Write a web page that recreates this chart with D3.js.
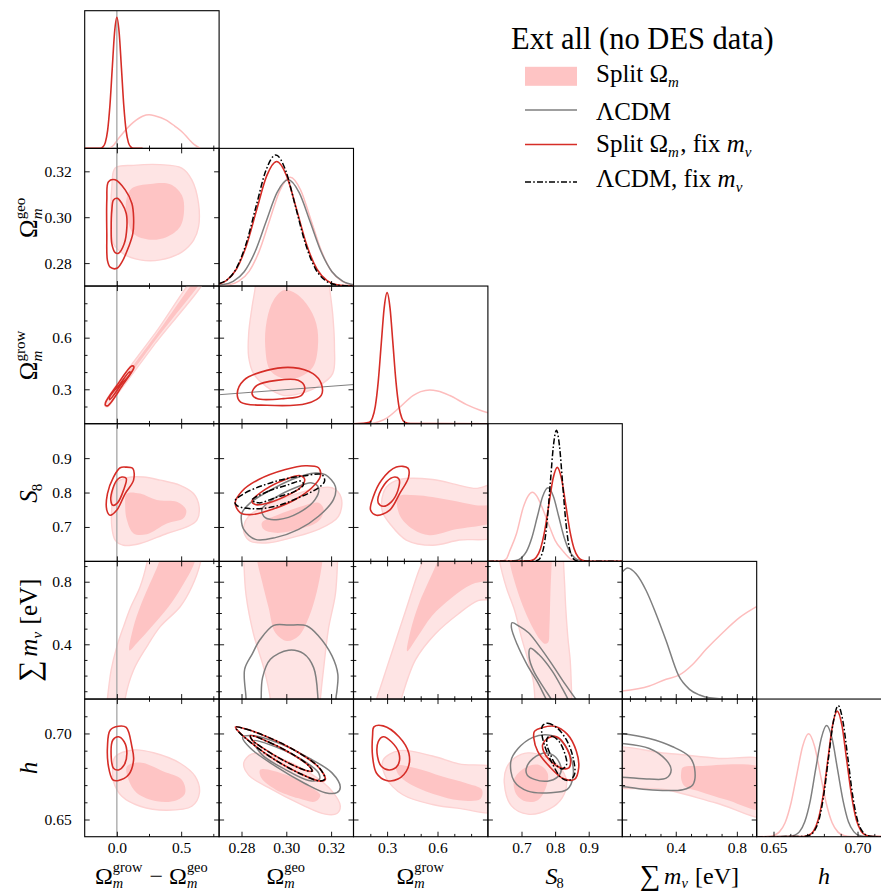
<!DOCTYPE html>
<html>
<head>
<meta charset="utf-8">
<script src="https://cdn.jsdelivr.net/npm/d3@7"></script>
<style>
  body { margin: 0; background: #fff; }
  svg { display: block; }
  text { font-family: 'Liberation Serif', 'DejaVu Serif', 'Times New Roman', serif; fill: #000; }
</style>
</head>
<body>
<svg id="chart" width="881" height="892"></svg>
<script>
// ---------------- parameter axes ----------------
const paramKeys = ["dOm", "geo", "grow", "s8", "mnu", "h"];
const domDelta = [-0.25, 0.795];
const domGeo = [0.27, 0.33];
const domGrow = [0.1, 0.9];
const domS8 = [0.6, 1.0];
const domMnu = [0.05, 0.93];
const domH = [0.64, 0.72];

const majorDelta = [0.0, 0.5], minorDelta = [0.25, 0.75];
const majorGeo = [0.28, 0.30, 0.32], minorGeo = [];
const majorGrow = [0.3, 0.6], minorGrow = [0.2, 0.4, 0.5, 0.7, 0.8];
const majorS8 = [0.7, 0.8, 0.9], minorS8 = [];
const majorMnu = [0.4, 0.8], minorMnu = [0.1, 0.2, 0.3, 0.5, 0.6, 0.7, 0.9];
const majorH = [0.65, 0.70], minorH = [0.66, 0.67, 0.68, 0.69, 0.71];

const labelsDelta = ["0.0", "0.5"];
const labelsGeo = ["0.28", "0.30", "0.32"];
const labelsGrow = ["0.3", "0.6"];
const labelsS8 = ["0.7", "0.8", "0.9"];
const labelsMnu = ["0.4", "0.8"];
const labelsH = ["0.65", "0.70"];

// ---------------- 1D marginals (x, relative density) ----------------
const deltaPink1d = [[-0.06,0],[-0.02,0.03],[0.0,0.059],[0.05,0.12],[0.13,0.2],[0.2,0.245],[0.25,0.256],[0.3,0.247],[0.38,0.218],[0.45,0.17],[0.51,0.123],[0.56,0.07],[0.6,0.03],[0.65,0]];
const deltaRed1d = [[-0.25,0],[-0.13,0],[-0.108,0.011],[-0.09,0.044],[-0.072,0.135],[-0.054,0.325],[-0.036,0.607],[-0.018,0.882],[0,1],[0.018,0.882],[0.036,0.607],[0.054,0.325],[0.072,0.135],[0.09,0.044],[0.108,0.011],[0.13,0],[0.2,0]];

const geoBlack1d = [[0.27,0.02],[0.2733,0.044],[0.2777,0.135],[0.2821,0.325],[0.2865,0.607],[0.2909,0.882],[0.2953,1.0],[0.2997,0.882],[0.3041,0.607],[0.3085,0.325],[0.3129,0.135],[0.3173,0.044],[0.3217,0.011],[0.3261,0.002],[0.33,0]];
const geoRed1d = [[0.27,0.016],[0.2732,0.042],[0.2777,0.128],[0.2822,0.309],[0.2867,0.577],[0.2912,0.838],[0.2957,0.95],[0.3002,0.838],[0.3047,0.577],[0.3092,0.309],[0.3137,0.128],[0.3182,0.042],[0.3227,0.01],[0.33,0]];
const geoGray1d = [[0.27,0.006],[0.2714,0.009],[0.2763,0.036],[0.2812,0.109],[0.2861,0.263],[0.291,0.492],[0.2959,0.714],[0.3008,0.81],[0.3057,0.714],[0.3106,0.492],[0.3155,0.263],[0.3204,0.109],[0.3253,0.036],[0.33,0.01]];
const geoPink1d = [[0.27,0.005],[0.2742,0.009],[0.2788,0.037],[0.2834,0.112],[0.288,0.27],[0.2926,0.504],[0.2972,0.732],[0.3018,0.83],[0.3064,0.732],[0.311,0.504],[0.3156,0.27],[0.3202,0.112],[0.3248,0.037],[0.3294,0.009],[0.33,0.008]];

const growRed1d = [[0.1,0],[0.16,0.003],[0.195,0.011],[0.2125,0.044],[0.23,0.135],[0.2475,0.325],[0.265,0.607],[0.2825,0.882],[0.3,1],[0.3175,0.882],[0.335,0.607],[0.3525,0.325],[0.37,0.135],[0.3875,0.044],[0.405,0.011],[0.44,0.001],[0.9,0]];
const growPink1d = [[0.2,0],[0.25,0.015],[0.3,0.045],[0.375,0.125],[0.454,0.215],[0.5,0.245],[0.554,0.258],[0.6,0.25],[0.673,0.215],[0.773,0.146],[0.85,0.105],[0.9,0.084]];

const s8Black1d = [[0.6,0],[0.74,0.002],[0.75,0.011],[0.759,0.044],[0.768,0.135],[0.777,0.325],[0.786,0.607],[0.795,0.882],[0.804,1],[0.813,0.882],[0.822,0.607],[0.831,0.325],[0.84,0.135],[0.849,0.044],[0.858,0.011],[0.87,0.001],[1.0,0]];
const s8Red1d = [[0.6,0],[0.72,0.002],[0.7315,0.008],[0.744,0.032],[0.7565,0.097],[0.769,0.233],[0.7815,0.435],[0.794,0.632],[0.8065,0.717],[0.819,0.632],[0.8315,0.435],[0.844,0.233],[0.8565,0.097],[0.869,0.032],[0.8815,0.008],[0.9,0.001],[1.0,0]];
const s8Gray1d = [[0.62,0],[0.66,0.001],[0.683,0.006],[0.699,0.025],[0.715,0.076],[0.731,0.182],[0.747,0.34],[0.763,0.495],[0.779,0.561],[0.795,0.495],[0.811,0.34],[0.827,0.182],[0.843,0.076],[0.859,0.025],[0.875,0.006],[0.9,0]];
const s8Pink1d = [[0.64,0],[0.655,0.02],[0.665,0.08],[0.685,0.21],[0.705,0.41],[0.72,0.5],[0.7324,0.527],[0.745,0.5],[0.76,0.42],[0.784,0.26],[0.8,0.16],[0.823,0.08],[0.845,0.02],[0.86,0]];

const mnuGray1d = [[0.048,0.968],[0.085,1.0],[0.14,0.956],[0.206,0.828],[0.271,0.649],[0.337,0.445],[0.418,0.18],[0.49,0.074],[0.556,0.031],[0.62,0.01],[0.75,0],[0.93,0]];
const mnuPink1d = [[0.048,0.061],[0.227,0.1],[0.337,0.151],[0.418,0.18],[0.512,0.266],[0.6,0.381],[0.709,0.508],[0.819,0.623],[0.929,0.705]];

const hBlack1d = [[0.64,0],[0.668,0.002],[0.6715,0.011],[0.6743,0.044],[0.6772,0.135],[0.68,0.325],[0.6828,0.607],[0.6857,0.882],[0.6885,1.0],[0.6913,0.882],[0.6942,0.607],[0.697,0.325],[0.6998,0.135],[0.7027,0.044],[0.7055,0.011],[0.709,0.001],[0.72,0]];
const hRed1d = [[0.64,0],[0.668,0.002],[0.6709,0.011],[0.6738,0.042],[0.6766,0.129],[0.6795,0.311],[0.6823,0.582],[0.6851,0.845],[0.6879,0.958],[0.6908,0.845],[0.6936,0.582],[0.6965,0.311],[0.6993,0.129],[0.7022,0.042],[0.705,0.011],[0.709,0.001],[0.72,0]];
const hGray1d = [[0.64,0],[0.66,0.003],[0.6621,0.009],[0.6654,0.037],[0.6686,0.114],[0.6719,0.276],[0.6751,0.515],[0.6784,0.748],[0.6816,0.848],[0.6849,0.748],[0.6881,0.515],[0.6914,0.276],[0.6946,0.114],[0.6979,0.037],[0.7011,0.009],[0.705,0.001],[0.72,0]];
const hPink1d = [[0.64,0],[0.648,0.002],[0.6499,0.009],[0.6534,0.035],[0.6569,0.106],[0.6604,0.255],[0.6639,0.476],[0.6674,0.692],[0.6709,0.785],[0.6744,0.692],[0.6779,0.476],[0.6814,0.255],[0.6849,0.106],[0.6884,0.035],[0.6919,0.009],[0.696,0.001],[0.72,0]];

// ---------------- 2D contours (68% / 95%), in parameter units ----------------
// Omega_grow - Omega_geo  vs  Omega_geo
const dGeoPinkOut = [[-0.013,0.3214],[0.13,0.3226],[0.337,0.3229],[0.505,0.3214],[0.583,0.3163],[0.635,0.306],[0.635,0.2958],[0.596,0.2899],[0.505,0.2848],[0.337,0.2814],[0.181,0.2814],[0.052,0.284],[-0.026,0.2884],[-0.044,0.3001],[-0.039,0.3133]];
const dGeoPinkIn = [[0.117,0.3126],[0.259,0.3145],[0.415,0.3144],[0.505,0.3097],[0.523,0.3031],[0.492,0.2958],[0.389,0.2914],[0.259,0.2902],[0.13,0.2928],[0.078,0.3001],[0.073,0.3075]];
const dGeoRedOut = [[-0.065,0.3155],[-0.013,0.3163],[0.065,0.3119],[0.117,0.306],[0.13,0.3001],[0.124,0.2928],[0.091,0.287],[0.039,0.2804],[0.0,0.2777],[-0.052,0.2782],[-0.073,0.2811],[-0.078,0.2928],[-0.078,0.3075]];
const dGeoRedIn = [[-0.026,0.3075],[0.005,0.3082],[0.039,0.306],[0.073,0.3016],[0.078,0.2958],[0.057,0.2884],[0.013,0.2843],[-0.013,0.2846],[-0.039,0.2884],[-0.044,0.2958],[-0.039,0.3031]];

// difference vs Omega_grow
const dGrowPinkOut = [[-0.095,0.215],[-0.09,0.202],[-0.07,0.2],[0.0,0.268],[0.3,0.568],[0.7,0.968],[0.66,0.99],[0.3,0.628],[0.0,0.328],[-0.08,0.24]];
const dGrowPinkIn = [[-0.06,0.24],[0.0,0.285],[0.3,0.585],[0.7,0.985],[0.68,0.99],[0.3,0.612],[0.0,0.312],[-0.06,0.255]];
const dGrowRedOut = [[-0.088,0.207],[-0.07,0.205],[0.05,0.33],[0.13,0.42],[0.132,0.433],[0.115,0.435],[0.0,0.322],[-0.088,0.222]];
const dGrowRedIn = [[-0.055,0.24],[0.04,0.333],[0.105,0.392],[0.1,0.402],[0.02,0.327],[-0.056,0.255]];

// Omega_geo vs Omega_grow
const geoGrowPinkOut = [[0.2862,0.95],[0.2862,0.9],[0.2847,0.778],[0.2832,0.623],[0.2832,0.488],[0.2854,0.391],[0.2913,0.314],[0.2987,0.265],[0.306,0.275],[0.3149,0.323],[0.3207,0.391],[0.3215,0.546],[0.3207,0.739],[0.3193,0.9],[0.3193,0.95]];
const geoGrowPinkIn = [[0.2943,0.817],[0.2987,0.875],[0.3031,0.865],[0.309,0.797],[0.3134,0.681],[0.3141,0.546],[0.3119,0.43],[0.306,0.372],[0.2987,0.362],[0.2928,0.41],[0.2906,0.546],[0.2913,0.701]];
const geoGrowRedOut = [[0.2781,0.275],[0.281,0.352],[0.2913,0.41],[0.3031,0.426],[0.3119,0.391],[0.3156,0.333],[0.3156,0.265],[0.309,0.217],[0.2913,0.207],[0.2796,0.226]];
const geoGrowRedIn = [[0.2847,0.275],[0.2869,0.323],[0.2957,0.352],[0.3053,0.352],[0.3082,0.314],[0.3068,0.265],[0.2987,0.246],[0.2869,0.246]];
const geoGrowGrayLine = [[0.27,0.2685],[0.33,0.3275]];

// difference vs S8
const dS8PinkOut = [[-0.013,0.826],[0.078,0.843],[0.207,0.845],[0.337,0.836],[0.492,0.821],[0.596,0.797],[0.64,0.758],[0.622,0.72],[0.544,0.7],[0.389,0.681],[0.181,0.652],[0.052,0.647],[-0.013,0.662],[-0.039,0.7],[-0.039,0.758]];
const dS8PinkIn = [[0.078,0.797],[0.181,0.797],[0.311,0.778],[0.466,0.773],[0.539,0.749],[0.518,0.725],[0.389,0.71],[0.233,0.679],[0.13,0.681],[0.078,0.72],[0.065,0.758]];
const dS8RedOut = [[0.026,0.872],[0.065,0.874],[0.124,0.87],[0.13,0.836],[0.065,0.797],[0.0,0.749],[-0.052,0.734],[-0.078,0.749],[-0.073,0.797],[-0.026,0.845]];
const dS8RedIn = [[0.039,0.845],[0.073,0.841],[0.052,0.807],[0.005,0.77],[-0.031,0.763],[-0.047,0.778],[-0.031,0.812],[0.005,0.838]];

// Omega_geo vs S8
const geoS8PinkOut = [[0.281,0.702],[0.2832,0.731],[0.2891,0.756],[0.2996,0.785],[0.3114,0.809],[0.3204,0.814],[0.3245,0.785],[0.3233,0.731],[0.3144,0.693],[0.3025,0.669],[0.2921,0.654],[0.2839,0.659],[0.2814,0.678]];
const geoS8PinkIn = [[0.2891,0.712],[0.2966,0.736],[0.307,0.76],[0.3144,0.77],[0.3167,0.751],[0.3144,0.717],[0.3055,0.693],[0.2951,0.683],[0.2899,0.693]];
const geoS8GrayOut = [[0.2802,0.741],[0.2839,0.77],[0.2921,0.804],[0.3025,0.838],[0.3129,0.857],[0.3174,0.852],[0.3219,0.818],[0.3211,0.78],[0.3144,0.731],[0.3055,0.693],[0.2951,0.669],[0.2862,0.664],[0.281,0.693],[0.2799,0.722]];
const geoS8GrayIn = [[0.2891,0.751],[0.2951,0.785],[0.304,0.814],[0.3114,0.828],[0.3144,0.814],[0.3129,0.78],[0.3055,0.741],[0.2966,0.722],[0.2906,0.727]];
const geoS8RedOut = [[0.2772,0.77],[0.2802,0.804],[0.2877,0.838],[0.2996,0.867],[0.3085,0.878],[0.3144,0.872],[0.3152,0.847],[0.3114,0.814],[0.304,0.78],[0.2936,0.751],[0.2847,0.736],[0.2795,0.741]];
const geoS8RedIn = [[0.2847,0.775],[0.2906,0.809],[0.2996,0.838],[0.3062,0.849],[0.3082,0.838],[0.3062,0.814],[0.2996,0.789],[0.2921,0.77],[0.2862,0.765]];
const geoS8BlackOut = [[0.277,0.775],[0.2817,0.799],[0.2906,0.823],[0.2996,0.84],[0.3085,0.849],[0.3159,0.852],[0.3171,0.833],[0.3144,0.814],[0.3055,0.785],[0.2951,0.76],[0.2847,0.753],[0.278,0.762]];
const geoS8BlackIn = [[0.2847,0.778],[0.2921,0.804],[0.301,0.823],[0.3067,0.833],[0.3077,0.823],[0.304,0.804],[0.2951,0.785],[0.2877,0.77]];

// Omega_grow vs S8
const growS8PinkOut = [[0.2665,0.768],[0.2961,0.816],[0.3748,0.838],[0.5717,0.838],[0.7291,0.821],[0.8276,0.812],[0.95,0.821],[0.95,0.676],[0.7291,0.662],[0.5717,0.647],[0.4142,0.662],[0.3157,0.71],[0.2764,0.739]];
const growS8PinkIn = [[0.365,0.787],[0.473,0.792],[0.67,0.778],[0.828,0.763],[0.95,0.758],[0.95,0.72],[0.709,0.693],[0.552,0.676],[0.454,0.693],[0.375,0.734]];
const growS8RedOut = [[0.2016,0.749],[0.2173,0.787],[0.2665,0.836],[0.3551,0.874],[0.424,0.871],[0.428,0.845],[0.3748,0.797],[0.3157,0.749],[0.237,0.734]];
const growS8RedIn = [[0.2469,0.787],[0.2961,0.831],[0.3453,0.845],[0.3709,0.839],[0.365,0.807],[0.3256,0.773],[0.2764,0.76],[0.2469,0.77]];

// sum of neutrino masses row
const dSumPinkOut = [[-0.08,0.0],[-0.073,0.055],[-0.044,0.236],[0.0,0.385],[0.052,0.513],[0.109,0.64],[0.181,0.768],[0.233,0.917],[0.25,1.0],[0.66,1.0],[0.648,0.917],[0.583,0.768],[0.492,0.64],[0.337,0.513],[0.233,0.385],[0.13,0.236],[0.065,0.055],[0.06,0.0]];
const dSumPinkIn = [[0.098,0.36],[0.13,0.513],[0.181,0.64],[0.246,0.768],[0.324,0.917],[0.35,1.0],[0.62,1.0],[0.601,0.917],[0.505,0.768],[0.402,0.64],[0.272,0.513],[0.155,0.406]];
const geoSumPinkOut = [[0.2808,1.0],[0.281,0.943],[0.282,0.719],[0.2854,0.464],[0.2899,0.251],[0.2929,0.049],[0.293,0.0],[0.315,0.0],[0.3152,0.049],[0.3167,0.251],[0.3189,0.506],[0.3219,0.719],[0.3229,0.943],[0.323,1.0]];
const geoSumPinkIn = [[0.2869,1.0],[0.2869,0.943],[0.2891,0.804],[0.2921,0.634],[0.2951,0.474],[0.3003,0.421],[0.3055,0.453],[0.31,0.57],[0.3137,0.74],[0.3162,0.943],[0.3163,1.0]];
const geoSumGrayOut = [[0.282,0.0],[0.282,0.06],[0.2814,0.24],[0.2847,0.336],[0.2884,0.432],[0.2944,0.521],[0.301,0.523],[0.3092,0.517],[0.3144,0.453],[0.3204,0.326],[0.323,0.209],[0.3226,0.102],[0.3222,0.06],[0.3222,0.0]];
const geoSumGrayIn = [[0.2888,0.0],[0.2888,0.06],[0.2894,0.187],[0.2929,0.304],[0.301,0.362],[0.3077,0.34],[0.3122,0.251],[0.3141,0.06],[0.3141,0.0]];
const growSumPinkOut = [[0.22,0.0],[0.2333,0.038],[0.3118,0.294],[0.4098,0.613],[0.4882,0.868],[0.5176,0.943],[0.54,1.0],[0.95,1.0],[0.95,0.7],[0.841,0.679],[0.7235,0.594],[0.5863,0.466],[0.4686,0.3],[0.3804,0.038],[0.37,0.0]];
const growSumPinkIn = [[0.4196,0.355],[0.4392,0.485],[0.4882,0.655],[0.5667,0.847],[0.6059,0.943],[0.63,1.0],[0.95,1.0],[0.95,0.836],[0.802,0.783],[0.6843,0.698],[0.5667,0.581],[0.4784,0.443]];
const s8SumPinkOut = [[0.632,1.0],[0.635,0.932],[0.655,0.762],[0.68,0.613],[0.7,0.443],[0.72,0.294],[0.735,0.166],[0.74,0.05],[0.742,0.0],[0.852,0.0],[0.85,0.05],[0.845,0.294],[0.838,0.443],[0.832,0.62],[0.828,0.8],[0.825,0.932],[0.825,1.0]];
const s8SumPinkIn = [[0.662,1.0],[0.664,0.932],[0.685,0.762],[0.71,0.613],[0.735,0.5],[0.755,0.43],[0.768,0.404],[0.779,0.411],[0.783,0.506],[0.786,0.719],[0.79,0.932],[0.791,1.0]];
const s8SumGrayOut = [[0.672,0.538],[0.692,0.517],[0.721,0.474],[0.756,0.379],[0.791,0.272],[0.83,0.145],[0.865,0.04],[0.88,0.0],[0.79,0.0],[0.776,0.04],[0.751,0.145],[0.716,0.272],[0.687,0.4],[0.67,0.506]];
const s8SumGrayIn = [[0.726,0.374],[0.751,0.336],[0.791,0.23],[0.82,0.123],[0.84,0.04],[0.845,0.0],[0.8,0.0],[0.791,0.04],[0.766,0.123],[0.736,0.23],[0.723,0.315]];

// h row
const dHPinkOut = [[-0.013,0.6865],[0.13,0.6904],[0.285,0.6888],[0.492,0.6827],[0.609,0.675],[0.642,0.6654],[0.583,0.6577],[0.389,0.6554],[0.181,0.6577],[0.039,0.6635],[-0.026,0.6721],[-0.031,0.6808]];
const dHPinkIn = [[0.078,0.6808],[0.181,0.6831],[0.363,0.6779],[0.505,0.6731],[0.531,0.6654],[0.466,0.6612],[0.311,0.6606],[0.155,0.6654],[0.091,0.6731]];
const dHRedOut = [[-0.052,0.7019],[0.013,0.7042],[0.073,0.7035],[0.117,0.6923],[0.13,0.6846],[0.091,0.676],[0.013,0.6727],[-0.031,0.6731],[-0.065,0.6808],[-0.073,0.6923]];
const dHRedIn = [[-0.031,0.6962],[0.013,0.6981],[0.057,0.6952],[0.078,0.6885],[0.057,0.6817],[0.013,0.6788],[-0.026,0.6798],[-0.044,0.6865]];

const geoHPinkOut = [[0.281,0.6829],[0.2847,0.6881],[0.2966,0.6858],[0.3114,0.6762],[0.3204,0.6665],[0.3241,0.6579],[0.3226,0.6535],[0.3174,0.6531],[0.307,0.6585],[0.2921,0.6685],[0.2832,0.6758]];
const geoHPinkIn = [[0.2884,0.679],[0.2996,0.6762],[0.31,0.6694],[0.3152,0.6642],[0.3129,0.6604],[0.3055,0.6623],[0.2951,0.6675],[0.2888,0.6742]];
const geoHGrayOut = [[0.2805,0.6977],[0.2847,0.6988],[0.2966,0.6944],[0.31,0.6858],[0.3204,0.6771],[0.3241,0.6688],[0.3226,0.6656],[0.3174,0.6656],[0.3085,0.6708],[0.2951,0.681],[0.2839,0.6915]];
const geoHGrayIn = [[0.2854,0.6958],[0.2966,0.6915],[0.307,0.6848],[0.3144,0.6771],[0.3147,0.6733],[0.31,0.6727],[0.2996,0.679],[0.2891,0.6877]];
const geoHRedOut = [[0.2773,0.7038],[0.2817,0.7027],[0.2921,0.6977],[0.304,0.69],[0.3144,0.6804],[0.3174,0.6733],[0.3152,0.6723],[0.3055,0.6771],[0.2936,0.6858],[0.2832,0.6958],[0.278,0.7021]];
const geoHRedIn = [[0.2839,0.6988],[0.2921,0.695],[0.3025,0.6881],[0.31,0.6813],[0.3117,0.6781],[0.3088,0.6785],[0.2996,0.6838],[0.2891,0.6919],[0.2847,0.6963]];
const geoHBlackOut = [[0.2775,0.7037],[0.2819,0.7026],[0.2923,0.6976],[0.3042,0.6899],[0.3146,0.6803],[0.3172,0.6735],[0.315,0.6724],[0.3053,0.6772],[0.2934,0.6859],[0.283,0.6959],[0.2779,0.7022]];
const geoHBlackIn = [[0.2841,0.6987],[0.2923,0.6949],[0.3027,0.688],[0.3101,0.6812],[0.3115,0.6782],[0.3086,0.6786],[0.2994,0.6839],[0.2889,0.692],[0.2846,0.6964]];

const growHPinkOut = [[0.2765,0.6846],[0.3745,0.69],[0.5706,0.6869],[0.7275,0.6823],[0.95,0.679],[0.95,0.6552],[0.7275,0.6565],[0.5706,0.6587],[0.3941,0.6644],[0.2961,0.674]];
const growHPinkIn = [[0.3549,0.6812],[0.4725,0.6798],[0.6294,0.675],[0.7667,0.6712],[0.8647,0.6673],[0.8549,0.6619],[0.7275,0.6612],[0.5902,0.6644],[0.4333,0.6708],[0.3647,0.6765]];
const growHRedOut = [[0.2216,0.7038],[0.2765,0.7044],[0.3706,0.6981],[0.4294,0.6885],[0.4235,0.6798],[0.3647,0.6735],[0.2961,0.6727],[0.2373,0.6769],[0.2137,0.6865],[0.2137,0.699]];
const growHRedIn = [[0.2471,0.6952],[0.2765,0.6981],[0.3255,0.6952],[0.3706,0.6885],[0.3647,0.6817],[0.3157,0.6788],[0.2667,0.6808],[0.2431,0.6865]];

const s8HPinkOut = [[0.6488,0.6713],[0.6556,0.68],[0.68,0.6858],[0.719,0.6887],[0.7678,0.6867],[0.8117,0.681],[0.8341,0.6723],[0.8215,0.6627],[0.7824,0.656],[0.719,0.6531],[0.6702,0.6579]];
const s8HPinkIn = [[0.678,0.6733],[0.7093,0.68],[0.7483,0.6819],[0.7776,0.6771],[0.7727,0.6685],[0.7483,0.6612],[0.7141,0.6604],[0.6849,0.6646]];
const s8HGrayOut = [[0.6683,0.6838],[0.6898,0.6912],[0.7337,0.6977],[0.7727,0.6992],[0.8117,0.6969],[0.8439,0.6877],[0.8537,0.6752],[0.8361,0.6675],[0.7873,0.6656],[0.719,0.6665],[0.678,0.6723]];
const s8HGrayIn = [[0.7141,0.6796],[0.7337,0.6854],[0.7727,0.6887],[0.802,0.6862],[0.8185,0.679],[0.8068,0.6746],[0.7776,0.6723],[0.7385,0.6733],[0.7171,0.6758]];
const s8HRedOut = [[0.7385,0.7012],[0.7629,0.7035],[0.7971,0.7042],[0.8361,0.6996],[0.8634,0.6896],[0.8702,0.68],[0.8576,0.6733],[0.8244,0.6738],[0.7824,0.681],[0.7483,0.6896],[0.7366,0.6973]];
const s8HRedIn = [[0.7629,0.6935],[0.7824,0.6977],[0.8088,0.6977],[0.8312,0.6925],[0.8459,0.6848],[0.841,0.68],[0.8166,0.68],[0.7824,0.6848],[0.7659,0.6896]];
const s8HBlackOut = [[0.7629,0.7046],[0.7776,0.706],[0.8068,0.7031],[0.8361,0.6954],[0.8537,0.6858],[0.8576,0.6762],[0.841,0.6727],[0.8185,0.6742],[0.7893,0.6835],[0.7678,0.6935],[0.76,0.7012]];
const s8HBlackIn = [[0.7776,0.6977],[0.7922,0.6983],[0.8117,0.6954],[0.8283,0.6887],[0.8341,0.6819],[0.8215,0.6794],[0.802,0.6819],[0.7854,0.6881],[0.7756,0.6935]];

const sumHPinkOut = [[-0.05,0.6905],[0.337,0.6885],[0.665,0.6856],[1.0,0.6833],[1.0,0.652],[0.665,0.6596],[0.337,0.6673],[-0.05,0.6712]];
const sumHPinkIn = [[0.435,0.677],[0.446,0.6802],[0.556,0.6811],[1.0,0.6785],[1.0,0.6555],[0.731,0.6615],[0.556,0.6663],[0.46,0.6692],[0.437,0.673]];
const sumHGrayOut = [[-0.05,0.7008],[0.048,0.70],[0.227,0.6971],[0.38,0.6923],[0.49,0.6865],[0.523,0.6798],[0.512,0.6702],[0.446,0.6673],[0.227,0.6673],[0.048,0.6692],[-0.05,0.6692]];
const sumHGrayIn = [[-0.05,0.6945],[0.048,0.6942],[0.227,0.6913],[0.337,0.6846],[0.37,0.6788],[0.337,0.674],[0.227,0.6735],[0.048,0.6746],[-0.05,0.6746]];

// ---------------- styles ----------------
const colPinkOuter = "#fee4e4", colPinkEdge = "#fdd2d2", colPinkInner = "#fec4c4", colPinkLine = "#fdbdbd";
const colGray = "#7f7f7f", colRed = "#d62d27", colBlack = "#000";
const dashDot = "6,2.2,1.6,2.2";
const FONT = "'Liberation Serif','DejaVu Serif','Times New Roman',serif";

// ---------------- layout ----------------
const L0 = 84.7, T0 = 10.7, CW = 134.4, RH = 137.67;
const domains = [domDelta, domGeo, domGrow, domS8, domMnu, domH];
const majors = [majorDelta, majorGeo, majorGrow, majorS8, majorMnu, majorH];
const minors = [minorDelta, minorGeo, minorGrow, minorS8, minorMnu, minorH];
const tickLabels = [labelsDelta, labelsGeo, labelsGrow, labelsS8, labelsMnu, labelsH];

const xS = j => d3.scaleLinear().domain(domains[j]).range([L0 + j * CW, L0 + (j + 1) * CW]);
const yS = i => d3.scaleLinear().domain(domains[i]).range([T0 + (i + 1) * RH, T0 + i * RH]);

const svg = d3.select("#chart");
const defs = svg.append("defs");

function labelFor(k) {
  return v => { const idx = majors[k].indexOf(v); return idx >= 0 ? tickLabels[k][idx] : ""; };
}

function styleAxis(g) {
  g.select(".domain").remove();
  g.attr("font-family", null).attr("font-size", null);
  g.selectAll(".tick text").style("font-family", FONT).style("font-size", "15.5px");
  g.selectAll(".tick line").attr("stroke", "#000").attr("stroke-width", 0.9);
}

function panelFrame(i, j) {
  const xs = xS(j), ys = yS(i);
  const x0 = xs.range()[0], x1 = xs.range()[1];
  const y0 = T0 + i * RH, y1 = T0 + (i + 1) * RH;
  const id = `clip-${i}-${j}`;
  defs.append("clipPath").attr("id", id).append("rect")
    .attr("x", x0).attr("y", y0).attr("width", x1 - x0).attr("height", y1 - y0);
  const g = svg.append("g");
  const body = g.append("g").attr("clip-path", `url(#${id})`);
  return { g, body, xs, ys, x0, x1, y0, y1 };
}

function drawTicks(f, i, j, diag) {
  const { g, xs, ys, x0, x1, y0, y1 } = f;
  const bl = i === 5;
  g.append("g").attr("transform", `translate(0,${y1})`)
    .call(d3.axisBottom(xs).tickValues(majors[j]).tickSize(-5).tickPadding(5.5)
      .tickFormat(bl ? labelFor(j) : () => "")).call(styleAxis);
  g.append("g").attr("transform", `translate(0,${y1})`)
    .call(d3.axisBottom(xs).tickValues(minors[j]).tickSize(-2.8).tickFormat(() => "")).call(styleAxis);
  if (diag) return;
  g.append("g").attr("transform", `translate(0,${y0})`)
    .call(d3.axisTop(xs).tickValues(majors[j]).tickSize(-5).tickFormat(() => "")).call(styleAxis);
  g.append("g").attr("transform", `translate(0,${y0})`)
    .call(d3.axisTop(xs).tickValues(minors[j]).tickSize(-2.8).tickFormat(() => "")).call(styleAxis);
  const ll = j === 0;
  g.append("g").attr("transform", `translate(${x0},0)`)
    .call(d3.axisLeft(ys).tickValues(majors[i]).tickSize(-5).tickPadding(13)
      .tickFormat(ll ? labelFor(i) : () => "")).call(styleAxis);
  g.append("g").attr("transform", `translate(${x0},0)`)
    .call(d3.axisLeft(ys).tickValues(minors[i]).tickSize(-2.8).tickFormat(() => "")).call(styleAxis);
  g.append("g").attr("transform", `translate(${x1},0)`)
    .call(d3.axisRight(ys).tickValues(majors[i]).tickSize(-5).tickFormat(() => "")).call(styleAxis);
  g.append("g").attr("transform", `translate(${x1},0)`)
    .call(d3.axisRight(ys).tickValues(minors[i]).tickSize(-2.8).tickFormat(() => "")).call(styleAxis);
}

function border(f) {
  f.g.append("rect").attr("x", f.x0).attr("y", f.y0).attr("width", f.x1 - f.x0).attr("height", f.y1 - f.y0)
    .attr("fill", "none").attr("stroke", "#000").attr("stroke-width", 1.1);
}

function deltaZeroLine(f) {
  f.body.append("line").attr("x1", f.xs(0)).attr("x2", f.xs(0)).attr("y1", f.y0).attr("y2", f.y1)
    .attr("stroke", "#a6a6a6").attr("stroke-width", 1.3);
}

// ---------------- 2D panels ----------------
const panels2d = [
  { i: 1, j: 0, pink: [dGeoPinkOut, dGeoPinkIn], gray: [], red: [dGeoRedOut, dGeoRedIn], black: [] },
  { i: 2, j: 0, pink: [dGrowPinkOut, dGrowPinkIn], gray: [], red: [dGrowRedOut, dGrowRedIn], black: [] },
  { i: 2, j: 1, pink: [geoGrowPinkOut, geoGrowPinkIn], gray: [], red: [geoGrowRedOut, geoGrowRedIn], black: [], grayLine: geoGrowGrayLine },
  { i: 3, j: 0, pink: [dS8PinkOut, dS8PinkIn], gray: [], red: [dS8RedOut, dS8RedIn], black: [] },
  { i: 3, j: 1, pink: [geoS8PinkOut, geoS8PinkIn], gray: [geoS8GrayOut, geoS8GrayIn], red: [geoS8RedOut, geoS8RedIn], black: [geoS8BlackOut, geoS8BlackIn] },
  { i: 3, j: 2, pink: [growS8PinkOut, growS8PinkIn], gray: [], red: [growS8RedOut, growS8RedIn], black: [] },
  { i: 4, j: 0, pink: [dSumPinkOut, dSumPinkIn], gray: [], red: [], black: [] },
  { i: 4, j: 1, pink: [geoSumPinkOut, geoSumPinkIn], gray: [geoSumGrayOut, geoSumGrayIn], red: [], black: [] },
  { i: 4, j: 2, pink: [growSumPinkOut, growSumPinkIn], gray: [], red: [], black: [] },
  { i: 4, j: 3, pink: [s8SumPinkOut, s8SumPinkIn], gray: [s8SumGrayOut, s8SumGrayIn], red: [], black: [] },
  { i: 5, j: 0, pink: [dHPinkOut, dHPinkIn], gray: [], red: [dHRedOut, dHRedIn], black: [] },
  { i: 5, j: 1, pink: [geoHPinkOut, geoHPinkIn], gray: [geoHGrayOut, geoHGrayIn], red: [geoHRedOut, geoHRedIn], black: [geoHBlackOut, geoHBlackIn] },
  { i: 5, j: 2, pink: [growHPinkOut, growHPinkIn], gray: [], red: [growHRedOut, growHRedIn], black: [] },
  { i: 5, j: 3, pink: [s8HPinkOut, s8HPinkIn], gray: [s8HGrayOut, s8HGrayIn], red: [s8HRedOut, s8HRedIn], black: [s8HBlackOut, s8HBlackIn] },
  { i: 5, j: 4, pink: [sumHPinkOut, sumHPinkIn], gray: [sumHGrayOut, sumHGrayIn], red: [], black: [] }
];

panels2d.forEach(p => {
  const f = panelFrame(p.i, p.j);
  const closed = d3.line().x(d => f.xs(d[0])).y(d => f.ys(d[1])).curve(d3.curveCatmullRomClosed.alpha(0.5));
  const open = d3.line().x(d => f.xs(d[0])).y(d => f.ys(d[1]));
  f.body.append("path").datum(p.pink[0]).attr("d", closed)
    .attr("fill", colPinkOuter).attr("stroke", colPinkEdge).attr("stroke-width", 1.4);
  f.body.append("path").datum(p.pink[1]).attr("d", closed)
    .attr("fill", colPinkInner).attr("stroke", "none");
  if (p.j === 0) deltaZeroLine(f);
  if (p.grayLine) {
    f.body.append("path").datum(p.grayLine).attr("d", open)
      .attr("fill", "none").attr("stroke", colGray).attr("stroke-width", 1);
  }
  p.gray.forEach(c => f.body.append("path").datum(c).attr("d", closed)
    .attr("fill", "none").attr("stroke", colGray).attr("stroke-width", 1.5));
  p.red.forEach(c => f.body.append("path").datum(c).attr("d", closed)
    .attr("fill", "none").attr("stroke", colRed).attr("stroke-width", 1.6));
  p.black.forEach(c => f.body.append("path").datum(c).attr("d", closed)
    .attr("fill", "none").attr("stroke", colBlack).attr("stroke-width", 1.5).attr("stroke-dasharray", dashDot));
  border(f);
  drawTicks(f, p.i, p.j, false);
});

// ---------------- diagonal (1D) panels ----------------
const diagPanels = [
  { k: 0, pink: deltaPink1d, gray: null, red: deltaRed1d, black: null },
  { k: 1, pink: geoPink1d, gray: geoGray1d, red: geoRed1d, black: geoBlack1d },
  { k: 2, pink: growPink1d, gray: null, red: growRed1d, black: null },
  { k: 3, pink: s8Pink1d, gray: s8Gray1d, red: s8Red1d, black: s8Black1d },
  { k: 4, pink: mnuPink1d, gray: mnuGray1d, red: null, black: null },
  { k: 5, pink: hPink1d, gray: hGray1d, red: hRed1d, black: hBlack1d }
];

diagPanels.forEach(p => {
  const f = panelFrame(p.k, p.k);
  const dy = d3.scaleLinear().domain([0, 1.05]).range([f.y1, f.y0]);
  const line = d3.line().x(d => f.xs(d[0])).y(d => dy(d[1])).curve(d3.curveMonotoneX);
  f.body.append("path").datum(p.pink).attr("d", line).attr("fill", "none")
    .attr("stroke", colPinkLine).attr("stroke-width", 1.5);
  if (p.k === 0) deltaZeroLine(f);
  if (p.gray) f.body.append("path").datum(p.gray).attr("d", line).attr("fill", "none")
    .attr("stroke", colGray).attr("stroke-width", 1.5);
  if (p.red) f.body.append("path").datum(p.red).attr("d", line).attr("fill", "none")
    .attr("stroke", colRed).attr("stroke-width", 1.6);
  if (p.black) f.body.append("path").datum(p.black).attr("d", line).attr("fill", "none")
    .attr("stroke", colBlack).attr("stroke-width", 1.5).attr("stroke-dasharray", dashDot);
  // frame: the last panel runs past the right edge of the page
  border(f);
  drawTicks(f, p.k, p.k, true);
});

// ---------------- math-style labels ----------------
// sub- and superscripts are stacked after their base glyph
function mathText(parent, x, y, parts, size, anchor, rotate) {
  const g = parent.append("g");
  const inner = g.append("g");
  let cx = 0;
  parts.forEach(p => {
    if (p.sub !== undefined || p.sup !== undefined) {
      let w = 0;
      const s = size * 0.6;
      if (p.sup !== undefined) {
        const t = inner.append("text").attr("x", cx).attr("y", -size * 0.5)
          .style("font-size", s + "px").style("font-style", p.supIt ? "italic" : "normal").text(p.sup);
        w = Math.max(w, t.node().getComputedTextLength());
      }
      if (p.sub !== undefined) {
        const dx = p.subDx || 0;
        const t = inner.append("text").attr("x", cx + dx).attr("y", size * 0.2)
          .style("font-size", s + "px").style("font-style", p.subIt ? "italic" : "normal").text(p.sub);
        w = Math.max(w, t.node().getComputedTextLength() + dx);
      }
      cx += w + size * 0.05;
    } else {
      const t = inner.append("text").attr("x", cx).attr("y", (p.dy || 0) * size)
        .style("font-size", size * (p.scale || 1) + "px").style("font-style", p.it ? "italic" : "normal")
        .attr("xml:space", "preserve").text(p.t);
      cx += t.node().getComputedTextLength() + (p.after || 0) * size;
    }
  });
  inner.attr("transform", `translate(${anchor === "middle" ? -cx / 2 : 0},0)`);
  g.attr("transform", `translate(${x},${y})` + (rotate ? ` rotate(${rotate})` : ""));
  return g;
}

const titleDelta = [{ t: "Ω" }, { sup: "grow", sub: "m", subIt: true }, { t: " − " }, { t: "Ω" }, { sup: "geo", sub: "m", subIt: true }];
const titleGeo = [{ t: "Ω" }, { sup: "geo", sub: "m", subIt: true }];
const titleGrow = [{ t: "Ω" }, { sup: "grow", sub: "m", subIt: true }];
const titleS8 = [{ t: "S", it: true }, { sub: "8", subDx: -1 }];
const titleMnu = [{ t: "∑", scale: 1.2, dy: 0.08, after: 0.15 }, { t: "m", it: true }, { sub: "ν", subIt: true }, { t: " [eV]" }];
const titleH = [{ t: "h", it: true }];
const axisTitles = [titleDelta, titleGeo, titleGrow, titleS8, titleMnu, titleH];

axisTitles.forEach((parts, k) => {
  mathText(svg, L0 + (k + 0.5) * CW, 883.5, parts, 24, "middle");
  if (k > 0) mathText(svg, 37, T0 + (k + 0.5) * RH, parts, 25, "middle", -90);
});

// ---------------- legend ----------------
const legendTitle = "Ext all (no DES data)";
const legendEntries = [
  { kind: "patch", parts: [{ t: "Split Ω" }, { sub: "m", subIt: true }] },
  { kind: "gray", parts: [{ t: "ΛCDM" }] },
  { kind: "red", parts: [{ t: "Split Ω" }, { sub: "m", subIt: true }, { t: ", fix " }, { t: "m", it: true }, { sub: "ν", subIt: true }] },
  { kind: "black", parts: [{ t: "ΛCDM, fix " }, { t: "m", it: true }, { sub: "ν", subIt: true }] }
];
const legendBaselines = [82, 120, 151.5, 187];
const legendHandleY = [76.3, 110, 144.5, 182];

svg.append("text").attr("x", 511).attr("y", 49).style("font-size", "30.5px").text(legendTitle);
legendEntries.forEach((e, n) => {
  const hy = legendHandleY[n];
  if (e.kind === "patch") {
    svg.append("rect").attr("x", 525).attr("y", hy - 9.5).attr("width", 52).attr("height", 19).attr("fill", colPinkInner);
  } else {
    const ln = svg.append("line").attr("x1", 525).attr("x2", 577).attr("y1", hy).attr("y2", hy)
      .attr("stroke-width", 1.6)
      .attr("stroke", e.kind === "gray" ? colGray : e.kind === "red" ? colRed : colBlack);
    if (e.kind === "black") ln.attr("stroke-dasharray", dashDot);
  }
  mathText(svg, 596, legendBaselines[n], e.parts, 25, "start");
});
</script>
</body>
</html>
